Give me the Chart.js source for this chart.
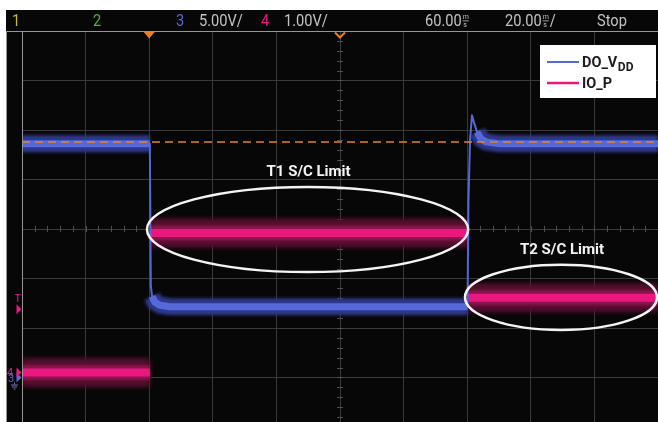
<!DOCTYPE html>
<html>
<head>
<meta charset="utf-8">
<script src="https://cdn.jsdelivr.net/npm/chart.js@4.4.1/dist/chart.umd.min.js"></script>
<style>
  html, body { margin: 0; padding: 0; background: #fff; overflow: hidden; }
  #wrap { position: relative; width: 658px; height: 427px; }
</style>
</head>
<body>
<div id="wrap"><canvas id="scope" width="658" height="427"></canvas></div>
<script>
// Time base: 20 ms/div with 60 ms delay, so the screen spans -40 ... 160 ms
const timeRangeMs = [-40, 160];
const msPerDiv = 20;
const divRange = [-4, 4];

// Channel 3: DO_VDD (volts)
const vddTimesMs = [-40, 0.2, 0.5, 0.9, 1.8, 3.4, 6.5, 100.1, 100.4, 100.9, 101.5, 102.1, 103.1, 104.3, 105.9, 110.3, 160];
const vddVolts   = [23.6, 23.6, 9.3, 8.2, 7.6, 7.3, 7.15, 7.15, 17.9, 24.0, 26.5, 25.8, 24.8, 24.1, 23.8, 23.6, 23.6];

// Channel 4: IO_P (volts), gaps between the three levels
const ioTimesMs = [-40, 0.2, 0.2, 0.4, 100.1, 100.1, 100.3, 160];
const ioVolts   = [0.0, 0.0, null, 2.82, 2.82, null, 1.51, 1.51];

// Trigger level line on channel 3
const triggerLevelV = 23.8;
const triggerTimeMs = 0;
const ioTriggerMarkV = 1.28;

// Short-circuit limit regions (channel 4)
const limitLabels      = ['T1 S/C Limit', 'T2 S/C Limit'];
const limitStartMs     = [-0.7, 99.3];
const limitEndMs       = [100.3, 159.7];
const limitCenterV     = [2.89, 1.52];
const limitHalfHeightV = [0.86, 0.66];

// Channel settings: volts per division and ground marker (divisions from centre)
const channelVoltsPerDiv = { vdd: 5, io: 1 };
const channelGroundDiv   = { vdd: -3.0, io: -2.9 };

const toDiv = (v, ch) => (v === null ? null : v / channelVoltsPerDiv[ch] + channelGroundDiv[ch]);
const toPoints = (times, volts, ch) => times.map((t, i) => ({ x: t, y: toDiv(volts[i], ch) }));

const vddPoints = toPoints(vddTimesMs, vddVolts, 'vdd');
const ioPoints = toPoints(ioTimesMs, ioVolts, 'io');
const trigPoints = timeRangeMs.map(t => ({ x: t, y: toDiv(triggerLevelV, 'vdd') }));

// hide the thick band on near-vertical edges so transitions stay thin
const hideSteep = ctx => {
  const dx = Math.abs(ctx.p1.x - ctx.p0.x);
  const dy = Math.abs(ctx.p1.y - ctx.p0.y);
  return dy > 2.5 * dx ? 'rgba(0,0,0,0)' : undefined;
};

const BLUE = 'rgb(84,104,214)';
const PINK = 'rgb(234,24,126)';
const ORANGE = 'rgb(232,128,40)';

const lineBase = { pointRadius: 0, tension: 0, spanGaps: false, borderCapStyle: 'butt', borderJoinStyle: 'round' };

// "blurPx" softens the persistence haze around each trace
const datasets = [
  { ...lineBase, label: 'trigger', data: trigPoints, borderColor: ORANGE, borderWidth: 1.5, borderDash: [8, 5], order: 0 },
  { ...lineBase, label: 'DO_VDD', data: vddPoints, borderColor: BLUE, borderWidth: 2, order: 1 },
  { ...lineBase, label: 'vdd core', data: vddPoints, borderColor: 'rgb(86,106,222)', borderWidth: 7, segment: { borderColor: hideSteep }, order: 2, blurPx: 0.5 },
  { ...lineBase, label: 'vdd haze', data: vddPoints, borderColor: 'rgb(46,56,138)', borderWidth: 17, segment: { borderColor: hideSteep }, order: 3, blurPx: 1.5 },
  { ...lineBase, label: 'IO_P', data: ioPoints, borderColor: PINK, borderWidth: 8, order: 4, blurPx: 0.5 },
  { ...lineBase, label: 'io mid', data: ioPoints, borderColor: 'rgb(140,20,76)', borderWidth: 15, order: 5, blurPx: 1.2 },
  { ...lineBase, label: 'io haze', data: ioPoints, borderColor: 'rgb(84,14,46)', borderWidth: 29, order: 6, blurPx: 2 }
];

function condensedText(ctx, text, x, y, color, size, squeeze) {
  ctx.save();
  ctx.translate(x, y);
  ctx.scale(squeeze, 1);
  ctx.font = size + 'px Roboto, "Liberation Sans", sans-serif';
  ctx.fillStyle = color;
  ctx.textAlign = 'left';
  ctx.textBaseline = 'alphabetic';
  ctx.fillText(text, 0, 0);
  const w = ctx.measureText(text).width * squeeze;
  ctx.restore();
  return w;
}

function unitStack(ctx, top, bottom, x, color) {
  ctx.save();
  ctx.font = '7px Roboto, sans-serif';
  ctx.fillStyle = color;
  ctx.textAlign = 'left';
  ctx.fillText(top, x, 19);
  ctx.fillRect(x, 20.5, 6, 0.8);
  ctx.fillText(bottom, x + 0.5, 27);
  ctx.restore();
}

const traceHaze = {
  id: 'traceHaze',
  beforeDatasetDraw(chart, args) {
    const ds = chart.data.datasets[args.index];
    chart.ctx.save();
    if (ds.blurPx) chart.ctx.filter = 'blur(' + ds.blurPx + 'px)';
  },
  afterDatasetDraw(chart) {
    chart.ctx.restore();
  }
};

const scopeChrome = {
  id: 'scopeChrome',
  beforeDraw(chart) {
    const { ctx, width, height } = chart;
    ctx.save();
    ctx.fillStyle = '#ffffff';
    ctx.fillRect(0, 0, width, height);
    ctx.fillStyle = '#070708';
    ctx.fillRect(6, 10, width - 6, height - 10);
    ctx.restore();
  },
  beforeDatasetsDraw(chart) {
    // minor ticks on the centre axes
    const { ctx, scales: { x, y } } = chart;
    const cx = x.getPixelForValue((timeRangeMs[0] + timeRangeMs[1]) / 2);
    const cy = y.getPixelForValue(0);
    ctx.save();
    ctx.strokeStyle = 'rgb(78,78,78)';
    ctx.lineWidth = 1;
    ctx.beginPath();
    for (let t = timeRangeMs[0]; t <= timeRangeMs[1]; t += msPerDiv / 5) {
      const px = Math.round(x.getPixelForValue(t)) + 0.5;
      ctx.moveTo(px, cy - 3); ctx.lineTo(px, cy + 3);
    }
    for (let d = divRange[0]; d <= divRange[1]; d += 0.2) {
      const py = Math.round(y.getPixelForValue(d)) + 0.5;
      ctx.moveTo(cx - 3, py); ctx.lineTo(cx + 3, py);
    }
    ctx.stroke();
    ctx.restore();
  },
  afterDatasetsDraw(chart) {
    const { ctx, scales: { x, y } } = chart;
    ctx.save();
    limitLabels.forEach((label, i) => {
      const x0 = x.getPixelForValue(limitStartMs[i]);
      const x1 = x.getPixelForValue(limitEndMs[i]);
      const cy = y.getPixelForValue(toDiv(limitCenterV[i], 'io'));
      const ry = Math.abs(y.getPixelForValue(toDiv(limitCenterV[i] + limitHalfHeightV[i], 'io')) - cy);
      const cx = (x0 + x1) / 2;
      const rx = (x1 - x0) / 2;
      ctx.beginPath();
      ctx.ellipse(cx, cy, rx, ry, 0, 0, Math.PI * 2);
      ctx.strokeStyle = '#f4f4f4';
      ctx.lineWidth = 2.5;
      ctx.stroke();
      ctx.font = 'bold 15px Roboto, "Liberation Sans", sans-serif';
      ctx.fillStyle = '#f4f4f4';
      ctx.textAlign = 'center';
      ctx.textBaseline = 'alphabetic';
      ctx.fillText(label, cx + 1, cy - ry - 11);
    });
    ctx.restore();
  },
  afterDraw(chart) {
    const { ctx, chartArea: a, scales: { x, y }, height } = chart;
    ctx.save();

    // frame lines
    ctx.strokeStyle = 'rgb(150,150,150)';
    ctx.lineWidth = 1;
    ctx.beginPath();
    ctx.moveTo(6, a.top + 0.5); ctx.lineTo(a.right, a.top + 0.5);
    ctx.moveTo(a.left + 0.5, a.top); ctx.lineTo(a.left + 0.5, height);
    ctx.moveTo(6.5, a.top); ctx.lineTo(6.5, height);
    ctx.stroke();

    // status bar
    const grey = 'rgb(196,196,196)';
    const fs = 17, sq = 0.86, base = 26;
    condensedText(ctx, '1', 12, base, 'rgb(196,186,60)', fs, sq);
    condensedText(ctx, '2', 93, base, 'rgb(96,172,62)', fs, sq);
    condensedText(ctx, '3', 176, base, 'rgb(92,104,206)', fs, sq);
    condensedText(ctx, '5.00V/', 199, base, grey, fs, sq);
    condensedText(ctx, '4', 261, base, PINK, fs, sq);
    condensedText(ctx, '1.00V/', 284, base, grey, fs, sq);
    let w = condensedText(ctx, '60.00', 425, base, grey, fs, sq);
    unitStack(ctx, 'm', 's', 425 + w + 1, grey);
    w = condensedText(ctx, '20.00', 505, base, grey, fs, sq);
    unitStack(ctx, 'm', 's', 505 + w + 1, grey);
    condensedText(ctx, '/', 505 + w + 8, base, grey, fs, sq);
    condensedText(ctx, 'Stop', 597, base, grey, fs, sq);

    // trigger position (filled) and delay reference (outline) markers
    const tx = x.getPixelForValue(triggerTimeMs);
    ctx.fillStyle = ORANGE;
    ctx.beginPath();
    ctx.moveTo(tx - 5.5, a.top + 1); ctx.lineTo(tx + 5.5, a.top + 1); ctx.lineTo(tx, a.top + 7.5);
    ctx.closePath(); ctx.fill();
    const dx = x.getPixelForValue((timeRangeMs[0] + timeRangeMs[1]) / 2);
    ctx.strokeStyle = ORANGE;
    ctx.lineWidth = 2;
    ctx.beginPath();
    ctx.moveTo(dx - 5, a.top + 1.5); ctx.lineTo(dx, a.top + 6.5); ctx.lineTo(dx + 5, a.top + 1.5);
    ctx.stroke();

    // left strip: trigger level and ground markers
    const arrow = (yy, color) => {
      ctx.fillStyle = color;
      ctx.beginPath();
      ctx.moveTo(16.5, yy - 5); ctx.lineTo(21.5, yy); ctx.lineTo(16.5, yy + 5);
      ctx.closePath(); ctx.fill();
    };
    const ty = y.getPixelForValue(toDiv(ioTriggerMarkV, 'io'));
    ctx.font = '11px Roboto, sans-serif';
    ctx.textAlign = 'left';
    ctx.fillStyle = PINK;
    ctx.fillText('T', 14.5, ty - 7);
    arrow(ty, PINK);
    const g3 = y.getPixelForValue(channelGroundDiv.vdd);
    const g4 = y.getPixelForValue(channelGroundDiv.io);
    ctx.fillStyle = 'rgb(92,104,206)';
    ctx.fillText('3', 8, g3 + 4);
    arrow(g3, 'rgb(92,104,206)');
    ctx.fillStyle = PINK;
    ctx.fillText('4', 7, g4 + 3);
    arrow(g4, PINK);
    ctx.strokeStyle = 'rgb(110,118,190)';
    ctx.lineWidth = 1;
    ctx.beginPath();
    ctx.moveTo(14.5, g3 + 5); ctx.lineTo(14.5, g3 + 7);
    ctx.moveTo(11, g3 + 7.5); ctx.lineTo(18, g3 + 7.5);
    ctx.moveTo(12, g3 + 9.5); ctx.lineTo(17, g3 + 9.5);
    ctx.moveTo(13.5, g3 + 11.5); ctx.lineTo(15.5, g3 + 11.5);
    ctx.stroke();

    // legend
    ctx.fillStyle = '#ffffff';
    ctx.fillRect(540, 45, 116, 53);
    ctx.lineWidth = 2;
    ctx.strokeStyle = BLUE;
    ctx.beginPath(); ctx.moveTo(547, 62); ctx.lineTo(579, 62); ctx.stroke();
    ctx.lineWidth = 2.5;
    ctx.strokeStyle = PINK;
    ctx.beginPath(); ctx.moveTo(547, 83); ctx.lineTo(579, 83); ctx.stroke();
    ctx.fillStyle = '#1c1c1c';
    ctx.font = 'bold 14.5px Roboto, "Liberation Sans", sans-serif';
    ctx.fillText('DO_V', 582, 67);
    const vw = ctx.measureText('DO_V').width;
    ctx.font = 'bold 12px Roboto, "Liberation Sans", sans-serif';
    ctx.fillText('DD', 582 + vw + 0.5, 71);
    ctx.font = 'bold 14.5px Roboto, "Liberation Sans", sans-serif';
    ctx.fillText('IO_P', 582, 88);

    ctx.restore();
  }
};

const gridOpts = { color: 'rgb(58,58,58)', lineWidth: 1, drawTicks: false };

new Chart(document.getElementById('scope'), {
  type: 'line',
  data: { datasets },
  options: {
    responsive: false,
    devicePixelRatio: 1,
    animation: false,
    events: [],
    layout: { padding: { left: 22, top: 31, right: 0, bottom: 0 } },
    plugins: { legend: { display: false }, tooltip: { enabled: false } },
    scales: {
      x: {
        type: 'linear', min: timeRangeMs[0], max: timeRangeMs[1],
        ticks: { display: false, stepSize: msPerDiv },
        grid: gridOpts, border: { display: false }
      },
      y: {
        type: 'linear', min: divRange[0], max: divRange[1],
        ticks: { display: false, stepSize: 1 },
        grid: gridOpts, border: { display: false }
      }
    }
  },
  plugins: [traceHaze, scopeChrome]
});
</script>
</body>
</html>
